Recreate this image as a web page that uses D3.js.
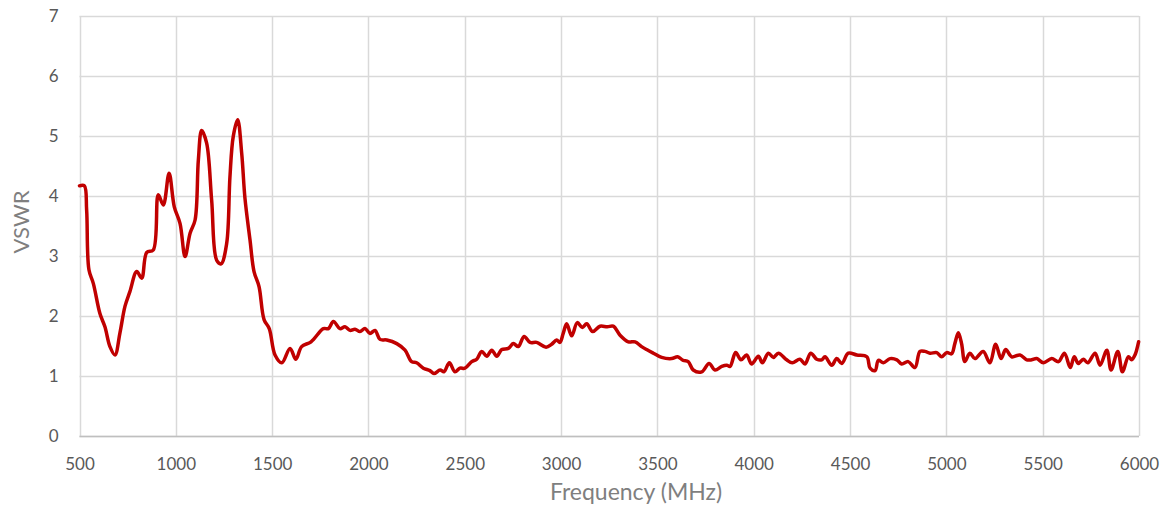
<!DOCTYPE html>
<html>
<head>
<meta charset="utf-8">
<script src="https://cdn.jsdelivr.net/npm/d3@7"></script>
<style>
  html, body { margin: 0; padding: 0; background: #ffffff; }
  svg { display: block; }
  text { font-family: Lato, "Open Sans", sans-serif; }
</style>
</head>
<body>
<svg id="chart" width="1166" height="508"></svg>
<script>
// ---- Data ----
const freq = [500, 525, 537, 549, 572, 606, 632, 658, 684, 710, 736, 762, 797, 823, 849, 883, 909, 935, 965, 992,
  1022, 1048, 1074, 1100, 1117, 1134, 1160, 1186, 1212, 1235, 1264, 1281, 1298, 1321, 1342, 1359, 1385, 1406, 1432, 1458,
  1485, 1515, 1550, 1593, 1623, 1653, 1702, 1766, 1792, 1818, 1852, 1878, 1904, 1930, 1956, 1982, 2008, 2034, 2060, 2095,
  2147, 2190, 2224, 2250, 2285, 2319, 2340, 2372, 2392, 2420, 2449, 2475, 2501, 2536, 2562, 2588, 2614, 2640, 2666, 2692,
  2726, 2752, 2778, 2808, 2839, 2873, 2922, 2951, 2977, 2994, 3011, 3029, 3055, 3084, 3110, 3133, 3164, 3202, 3240, 3271,
  3306, 3349, 3384, 3418, 3444, 3479, 3522, 3574, 3605, 3634, 3660, 3686, 3730, 3768, 3799, 3834, 3860, 3877, 3906, 3934,
  3963, 3989, 4024, 4045, 4076, 4102, 4128, 4171, 4200, 4240, 4266, 4296, 4327, 4353, 4370, 4405, 4431, 4457, 4491, 4535,
  4587, 4604, 4630, 4647, 4673, 4708, 4743, 4768, 4802, 4837, 4863, 4889, 4915, 4950, 4976, 5002, 5027, 5044, 5062, 5079,
  5096, 5122, 5148, 5191, 5226, 5256, 5284, 5308, 5339, 5382, 5417, 5443, 5469, 5504, 5547, 5582, 5613, 5643, 5664, 5685,
  5711, 5734, 5772, 5798, 5833, 5855, 5890, 5914, 5945, 5962, 5979, 5998];
const vswr = [4.17, 4.17, 3.77, 2.77, 2.54, 2.04, 1.82, 1.49, 1.35, 1.72, 2.16, 2.41, 2.74, 2.63, 3.06, 3.10, 4.02, 3.85, 4.38, 3.82,
  3.54, 2.99, 3.38, 3.60, 4.60, 5.09, 4.88, 3.93, 2.93, 2.87, 3.21, 4.32, 4.99, 5.27, 4.71, 3.96, 3.27, 2.74, 2.49, 1.94,
  1.79, 1.35, 1.22, 1.46, 1.28, 1.49, 1.57, 1.79, 1.79, 1.91, 1.79, 1.82, 1.76, 1.78, 1.74, 1.79, 1.71, 1.76, 1.61, 1.60,
  1.54, 1.43, 1.24, 1.22, 1.13, 1.09, 1.04, 1.10, 1.07, 1.22, 1.07, 1.13, 1.13, 1.24, 1.28, 1.41, 1.33, 1.43, 1.33, 1.44,
  1.46, 1.54, 1.49, 1.66, 1.56, 1.56, 1.48, 1.53, 1.60, 1.56, 1.71, 1.87, 1.67, 1.89, 1.81, 1.87, 1.74, 1.83, 1.82, 1.83,
  1.68, 1.57, 1.57, 1.49, 1.44, 1.38, 1.31, 1.29, 1.32, 1.26, 1.24, 1.10, 1.07, 1.21, 1.10, 1.16, 1.18, 1.16, 1.39, 1.27,
  1.35, 1.20, 1.33, 1.22, 1.38, 1.31, 1.38, 1.27, 1.22, 1.28, 1.20, 1.38, 1.28, 1.27, 1.32, 1.18, 1.29, 1.21, 1.38, 1.35,
  1.32, 1.13, 1.09, 1.26, 1.22, 1.29, 1.27, 1.20, 1.24, 1.14, 1.41, 1.41, 1.38, 1.39, 1.32, 1.39, 1.37, 1.54, 1.72, 1.54,
  1.24, 1.38, 1.29, 1.41, 1.22, 1.53, 1.29, 1.44, 1.32, 1.35, 1.27, 1.27, 1.29, 1.22, 1.29, 1.24, 1.38, 1.14, 1.32, 1.21,
  1.28, 1.22, 1.38, 1.18, 1.43, 1.10, 1.41, 1.07, 1.32, 1.27, 1.35, 1.57];
const xTicks = [500, 1000, 1500, 2000, 2500, 3000, 3500, 4000, 4500, 5000, 5500, 6000];
const yTicks = [0, 1, 2, 3, 4, 5, 6, 7];

(function () {
  // ---- Layout ----
  const svg = d3.select("#chart");
  const mLeft = 79.5, mRight = 1139, mTop = 16, mBottom = 436;
  const x = d3.scaleLinear().domain([500, 6000]).range([mLeft, mRight]);
  const y = d3.scaleLinear().domain([0, 7]).range([mBottom, mTop]);

  // Grid lines
  const grid = svg.append("g");
  grid.selectAll("line.v").data(xTicks).enter().append("line").attr("class", "v")
    .attr("x1", d => Math.round(x(d)) + 0.5).attr("x2", d => Math.round(x(d)) + 0.5)
    .attr("y1", mTop).attr("y2", mBottom)
    .attr("stroke", "#d9d9d9").attr("stroke-width", 1.5);
  grid.selectAll("line.h").data(yTicks).enter().append("line").attr("class", "h")
    .attr("x1", mLeft).attr("x2", mRight)
    .attr("y1", d => Math.round(y(d)) + 0.5).attr("y2", d => Math.round(y(d)) + 0.5)
    .attr("stroke", "#d9d9d9").attr("stroke-width", 1.5);

  // Bottom axis line
  svg.append("line").attr("x1", mLeft).attr("x2", mRight)
    .attr("y1", mBottom + 0.5).attr("y2", mBottom + 0.5)
    .attr("stroke", "#bfbfbf").attr("stroke-width", 1.5);

  // Axes (labels only)
  const xAxis = d3.axisBottom(x).tickValues(xTicks).tickFormat(d3.format("d")).tickSize(0).tickPadding(0);
  const gx = svg.append("g").attr("transform", `translate(0, ${mBottom + 34})`).call(xAxis);
  gx.select(".domain").remove();
  gx.selectAll("text").attr("fill", "#595959").attr("font-size", 17).attr("dy", "0");

  const yAxis = d3.axisLeft(y).tickValues(yTicks).tickFormat(d3.format("d")).tickSize(0).tickPadding(0);
  const gy = svg.append("g").attr("transform", `translate(${mLeft - 21}, 0)`).call(yAxis);
  gy.select(".domain").remove();
  gy.selectAll("text").attr("fill", "#595959").attr("font-size", 17).attr("dy", "0.35em");

  // Axis titles
  svg.append("text").attr("x", 636).attr("y", 500)
    .attr("text-anchor", "middle").attr("fill", "#7f7f7f").attr("font-size", 23)
    .text("Frequency (MHz)");
  svg.append("text").attr("transform", `translate(29, 222) rotate(-90)`)
    .attr("text-anchor", "middle").attr("fill", "#7f7f7f").attr("font-size", 22)
    .text("VSWR");

  // Line
  const data = freq.map((f, i) => ({ f, v: vswr[i] }));
  const line = d3.line().x(d => x(d.f)).y(d => y(d.v)).curve(d3.curveCatmullRom.alpha(0.5));
  svg.append("path").datum(data).attr("d", line)
    .attr("fill", "none").attr("stroke", "#c00000").attr("stroke-width", 3.5)
    .attr("stroke-linejoin", "round").attr("stroke-linecap", "round");
})();
</script>
</body>
</html>
